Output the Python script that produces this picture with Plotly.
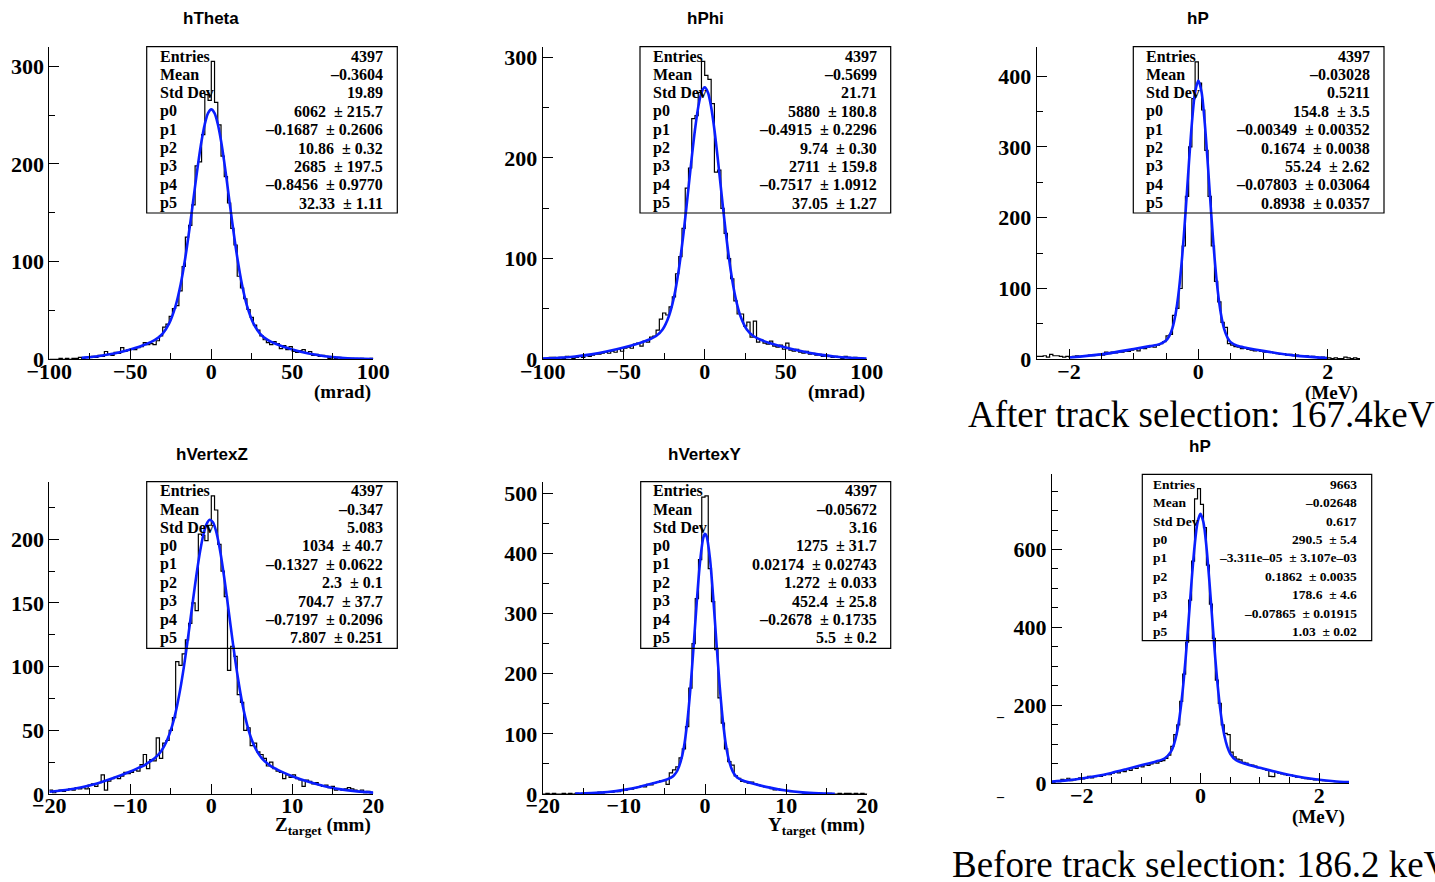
import numpy as np
import plotly.graph_objects as go

# ------------------------------------------------------------------ data
# histogram bin contents (100 bins each)
theta_range = [-100, 100]
theta_counts = [
    0, 0, 0, 1, 0, 1, 0, 1, 1, 2,
    1, 2, 2, 3, 2, 4, 3, 8, 5, 4,
    7, 6, 12, 8, 10, 11, 10, 12, 13, 17,
    15, 16, 15, 19, 24, 33, 36, 44, 52, 55,
    70, 95, 125, 137, 158, 198, 202, 230, 271, 265,
    305, 263, 240, 208, 187, 160, 134, 117, 85, 73,
    62, 51, 43, 35, 30, 24, 20, 17, 15, 18,
    16, 11, 14, 10, 13, 8, 7, 9, 10, 6,
    8, 4, 5, 3, 4, 3, 1, 2, 1, 2,
    1, 0, 1, 1, 0, 0, 1, 0, 0, 1]
theta_fit_x = [-80, -70, -60, -50, -40, -35, -30, -26, -22, -19, -16, -13, -10, -8, -6, -4, -2, 0,
               2, 4, 6, 8, 10, 13, 16, 19, 22, 26, 30, 35, 40, 50, 60, 70, 80, 90, 100]
theta_fit_y = [1.55, 3.2, 5.9, 10.0, 15.6, 19.6, 26.4, 36.7, 54.9, 76.0, 104.5, 139.3, 177.3, 201.9,
               223.7, 240.9, 252.0, 255.8, 252.0, 240.9, 223.7, 201.9, 177.3, 139.3, 104.5, 76.0,
               54.9, 36.7, 26.4, 19.6, 15.6, 10.0, 5.9, 3.2, 1.55, 0.69, 0.28]

phi_range = [-100, 100]
phi_counts = [
    1, 0, 2, 2, 1, 2, 1, 3, 2, 1,
    2, 3, 2, 4, 3, 4, 5, 5, 6, 7,
    6, 8, 7, 10, 8, 11, 12, 11, 15, 16,
    13, 18, 17, 22, 23, 29, 40, 46, 44, 52,
    62, 85, 102, 130, 170, 190, 239, 242, 265, 296,
    282, 278, 254, 186, 188, 150, 125, 100, 80, 58,
    45, 45, 33, 37, 22, 38, 17, 19, 16, 15,
    18, 13, 12, 14, 10, 16, 9, 8, 10, 7,
    6, 8, 5, 6, 4, 5, 3, 4, 3, 2,
    3, 2, 1, 3, 2, 1, 2, 1, 1, 0]
phi_fit_x = [-100, -90, -80, -70, -60, -50, -40, -35, -30, -26, -22, -19, -16, -13, -10, -8, -6, -4,
             -2, 0, 2, 4, 6, 8, 10, 13, 16, 19, 22, 26, 30, 35, 40, 50, 60, 70, 80, 90, 100]
phi_fit_y = [0.76, 1.5, 2.8, 4.9, 7.9, 11.7, 16.3, 19.1, 23.1, 29.6, 43.3, 61.4, 89.0, 126.2, 170.3,
             200.4, 228.0, 250.4, 265.0, 270.1, 265.0, 250.4, 228.0, 200.4, 170.3, 126.2, 89.0,
             61.4, 43.3, 29.6, 23.1, 19.1, 16.3, 11.7, 7.9, 4.9, 2.8, 1.5, 0.76]

pa_range = [-2.5, 2.5]
pa_counts = [
    4, 4, 5, 3, 7, 5, 5, 4, 3, 4,
    3, 4, 5, 4, 5, 4, 6, 5, 6, 7,
    6, 10, 8, 10, 9, 11, 10, 12, 11, 13,
    14, 12, 16, 15, 17, 18, 17, 20, 22, 25,
    33, 35, 62, 72, 100, 160, 230, 300, 368, 420,
    390, 352, 295, 230, 160, 110, 81, 52, 45, 22,
    20, 18, 17, 15, 16, 14, 13, 12, 13, 11,
    10, 11, 10, 9, 8, 7, 8, 6, 7, 5,
    6, 5, 4, 5, 3, 4, 3, 2, 3, 2,
    2, 1, 2, 1, 1, 3, 2, 1, 2, 1]
pa_fit_x = [-2, -1.5, -1, -0.75, -0.6, -0.5, -0.45, -0.4, -0.35, -0.3, -0.25, -0.2, -0.15, -0.1, -0.05,
            0, 0.05, 0.1, 0.15, 0.2, 0.25, 0.3, 0.35, 0.4, 0.45, 0.5, 0.6, 0.75, 1, 1.5, 2]
pa_fit_y = [2.44, 6.95, 14.5, 18.6, 21.4, 26.4, 32.6, 44.3, 65.0, 98.0, 145.2, 205.1, 271.5, 333.3,
            377.5, 393.5, 377.2, 332.8, 270.8, 204.2, 144.1, 96.6, 63.5, 42.6, 30.7, 24.3, 19.1,
            16.1, 11.9, 5.2, 1.65]

vz_range = [-20, 20]
vz_counts = [
    3, 1, 2, 3, 2, 3, 4, 3, 5, 4,
    5, 4, 7, 8, 6, 9, 15, 3, 10, 12,
    13, 12, 14, 17, 16, 17, 19, 18, 23, 31,
    20, 27, 26, 44, 28, 40, 42, 50, 60, 104,
    101, 110, 121, 134, 150, 144, 204, 203, 199, 211,
    234, 223, 196, 175, 155, 97, 116, 108, 78, 72,
    50, 52, 38, 40, 33, 31, 28, 22, 25, 20,
    18, 17, 12, 15, 13, 15, 12, 11, 6, 11,
    10, 8, 9, 7, 6, 7, 5, 6, 3, 4,
    3, 4, 5, 4, 3, 2, 3, 1, 2, 1]
vz_fit_x = [-20, -18, -16, -14, -12, -10, -9, -8.2, -7.8, -7.4, -7.0, -6.6, -6.2, -5.8, -5.4, -5.0,
            -4.6, -4.2, -3.8, -3.4, -3.0, -2.6, -2.2, -1.8, -1.4, -1.0, -0.6, -0.2, 0.2, 0.6, 1.0,
            1.4, 1.8, 2.2, 2.6, 3.0, 3.4, 3.8, 4.2, 4.6, 5.0, 5.4, 5.8, 6.2, 6.6, 7.0, 7.4, 7.8,
            8.2, 9, 10, 12, 14, 16, 18, 20]
vz_fit_y = [1.7, 3.1, 5.3, 8.5, 12.7, 17.7, 20.5, 22.7, 24.6, 26.2, 28.1, 30.5, 33.6, 37.7, 43.1, 50.1,
            58.9, 70.1, 83.5, 99.2, 116.9, 135.8, 155.1, 173.5, 189.9, 203.0, 211.7, 215.3, 213.3,
            206.1, 194.1, 178.5, 160.4, 141.0, 121.6, 103.1, 86.6, 72.1, 60.0, 50.2, 42.4, 36.5,
            31.9, 28.4, 25.7, 23.6, 21.7, 20.3, 19.0, 16.6, 14.0, 9.56, 6.1, 3.64, 2.03, 1.06]

vy_range = [-20, 20]
vy_counts = [
    0, 1, 0, 1, 0, 0, 1, 0, 1, 0,
    1, 0, 1, 2, 1, 2, 1, 3, 2, 3,
    4, 3, 5, 4, 7, 6, 9, 8, 10, 11,
    13, 12, 16, 15, 19, 20, 22, 22, 16, 35,
    40, 45, 60, 75, 112, 176, 250, 325, 390, 494,
    496, 375, 320, 240, 160, 118, 75, 54, 48, 30,
    26, 21, 20, 18, 20, 17, 15, 13, 12, 11,
    9, 7, 8, 6, 6, 5, 4, 4, 3, 3,
    2, 2, 2, 1, 1, 1, 0, 1, 1, 0,
    0, 1, 0, 1, 1, 0, 1, 0, 1, 0]
vy_fit_x = [-16, -14, -12, -10, -8, -6, -5, -4.6, -4, -3.8, -3.4, -3.0, -2.6, -2.2, -1.8, -1.4, -1.0,
            -0.6, -0.2, 0, 0.2, 0.6, 1.0, 1.4, 1.8, 2.2, 2.6, 3.0, 3.4, 3.8, 4.2, 4.6, 6, 8, 10, 12,
            14, 16]
vy_fit_y = [0.55, 1.45, 3.38, 6.86, 12.2, 19.1, 22.7, 24.7, 28.8, 31.3, 39.1, 53.8, 77.8, 117.8, 175.0,
            246.2, 322.0, 387.6, 426.8, 432.7, 428.7, 393.1, 329.5, 253.7, 181.2, 122.1, 79.9, 53.3,
            38.1, 29.8, 25.4, 22.8, 17.1, 10.6, 5.74, 2.72, 1.13, 0.41]

pb_range = [-2.5, 2.5]
pb_counts = [
    3, 6, 4, 10, 8, 13, 7, 9, 12, 14,
    11, 13, 18, 14, 17, 20, 18, 21, 24, 22,
    26, 29, 27, 32, 30, 36, 33, 40, 38, 45,
    42, 48, 46, 50, 53, 52, 56, 58, 64, 72,
    95, 125, 150, 210, 280, 362, 470, 570, 730, 756,
    716, 656, 560, 460, 372, 265, 205, 150, 128, 125,
    80, 68, 62, 60, 54, 52, 48, 47, 44, 40,
    38, 37, 33, 18, 17, 28, 26, 24, 22, 20,
    21, 18, 16, 15, 14, 12, 11, 10, 9, 10,
    8, 7, 6, 6, 5, 4, 4, 3, 3, 2]
pb_fit_x = [-2.5, -2.25, -2, -1.75, -1.5, -1.25, -1, -0.75, -0.6, -0.5, -0.45, -0.4, -0.35, -0.3, -0.25,
            -0.2, -0.15, -0.1, -0.05, 0, 0.05, 0.1, 0.15, 0.2, 0.25, 0.3, 0.35, 0.4, 0.45, 0.5, 0.6,
            0.75, 1, 1.25, 1.5, 1.75, 2, 2.25, 2.5]
pb_fit_y = [4.4, 7.5, 12.2, 18.6, 26.7, 36.3, 46.4, 56.0, 64.4, 80.6, 98.4, 127.8, 173.2, 237.6, 321.0,
            418.2, 518.8, 608.0, 669.6, 691.4, 669.1, 607.0, 517.4, 416.2, 318.5, 234.7, 169.9,
            124.0, 94.2, 76.0, 59.2, 50.1, 40.0, 30.1, 21.4, 14.3, 9.0, 5.4, 3.0]

# statistics boxes
stat_labels = ["Entries", "Mean", "Std Dev", "p0", "p1", "p2", "p3", "p4", "p5"]
theta_stats = ["4397", "\u20130.3604", "19.89", ("6062", "215.7"), ("\u20130.1687", "0.2606"),
               ("10.86", "0.32"), ("2685", "197.5"), ("\u20130.8456", "0.9770"), ("32.33", "1.11")]
phi_stats = ["4397", "\u20130.5699", "21.71", ("5880", "180.8"), ("\u20130.4915", "0.2296"),
             ("9.74", "0.30"), ("2711", "159.8"), ("\u20130.7517", "1.0912"), ("37.05", "1.27")]
pa_stats = ["4397", "\u20130.03028", "0.5211", ("154.8", "3.5"), ("\u20130.00349", "0.00352"),
            ("0.1674", "0.0038"), ("55.24", "2.62"), ("\u20130.07803", "0.03064"), ("0.8938", "0.0357")]
vz_stats = ["4397", "\u20130.347", "5.083", ("1034", "40.7"), ("\u20130.1327", "0.0622"),
            ("2.3", "0.1"), ("704.7", "37.7"), ("\u20130.7197", "0.2096"), ("7.807", "0.251")]
vy_stats = ["4397", "\u20130.05672", "3.16", ("1275", "31.7"), ("0.02174", "0.02743"),
            ("1.272", "0.033"), ("452.4", "25.8"), ("\u20130.2678", "0.1735"), ("5.5", "0.2")]
pb_stats = ["9663", "\u20130.02648", "0.617", ("290.5", "5.4"), ("\u20133.311e\u201305", "3.107e\u201303"),
            ("0.1862", "0.0035"), ("178.6", "4.6"), ("\u20130.07865", "0.01915"), ("1.03", "0.02")]

titles = ["hTheta", "hPhi", "hP", "hVertexZ", "hVertexY", "hP"]
xtitles = ["(mrad)", "(mrad)", "(MeV)", "Z<sub>target</sub> (mm)", "Y<sub>target</sub> (mm)", "(MeV)"]
note_after = "After track selection: 167.4keV"
note_before = "Before track selection: 186.2 keV"

# ------------------------------------------------------------------ layout helpers
W, H = 1435, 882
def fx(p):
    return p / W
def fy(p):
    return 1 - p / H

SERIF = "Liberation Serif"
SANS = "Liberation Sans"
BLUE = "#0a1eff"

panels = [
    dict(counts=theta_counts, rng=theta_range, fx_=theta_fit_x, fy_=theta_fit_y, stats=theta_stats,
         dom=(49.3, 373.3, 46.7, 359.3), ymax=320, xd=50, xm=25, yd=100, ym=50,
         box=(146.7, 46.7, 397.3, 213.0), row0=56.0, lx=159.3, rx=384.0, sfs=16,
         title=(211, 18), xt=(373.3, 392)),
    dict(counts=phi_counts, rng=phi_range, fx_=phi_fit_x, fy_=phi_fit_y, stats=phi_stats,
         dom=(542.7, 866.7, 46.7, 359.3), ymax=310.5, xd=50, xm=25, yd=100, ym=50,
         box=(640.0, 46.7, 890.7, 213.0), row0=56.0, lx=651.7, rx=877.7, sfs=16,
         title=(705, 18), xt=(866.7, 392)),
    dict(counts=pa_counts, rng=pa_range, fx_=pa_fit_x, fy_=pa_fit_y, stats=pa_stats,
         dom=(1036.7, 1360.0, 46.7, 359.3), ymax=441.4, xd=2, xm=0.5, yd=100, ym=50,
         box=(1133.3, 46.7, 1384.0, 213.0), row0=56.0, lx=1145.0, rx=1370.7, sfs=16,
         title=(1198, 18), xt=(1360.0, 393)),
    dict(counts=vz_counts, rng=vz_range, fx_=vz_fit_x, fy_=vz_fit_y, stats=vz_stats,
         dom=(49.3, 373.3, 481.7, 794.0), ymax=245.2, xd=10, xm=5, yd=50, ym=25,
         box=(146.7, 481.7, 397.3, 648.3), row0=490.7, lx=159.3, rx=384.0, sfs=16,
         title=(212, 454), xt=(373.3, 826)),
    dict(counts=vy_counts, rng=vy_range, fx_=vy_fit_x, fy_=vy_fit_y, stats=vy_stats,
         dom=(542.7, 867.3, 481.7, 794.0), ymax=519.5, xd=10, xm=5, yd=100, ym=50,
         box=(640.7, 481.7, 890.7, 648.3), row0=490.7, lx=651.7, rx=877.7, sfs=16,
         title=(704, 454), xt=(866.7, 826)),
    dict(counts=pb_counts, rng=pb_range, fx_=pb_fit_x, fy_=pb_fit_y, stats=pb_stats,
         dom=(1052.0, 1349.0, 474.3, 783.3), ymax=793, xd=2, xm=0.5, yd=200, ym=50,
         box=(1142.3, 474.3, 1371.7, 640.7), row0=484.3, lx=1152.3, rx=1357.7, sfs=13.5,
         title=(1200, 446), xt=(1347.3, 817)),
]

fig = go.Figure()
annotations = []
shapes = []
tickfont = dict(family=SERIF, size=22, color="black", weight="bold")

for i, p in enumerate(panels, start=1):
    xa = "x" if i == 1 else f"x{i}"
    ya = "y" if i == 1 else f"y{i}"
    counts = p["counts"]
    edges = np.linspace(p["rng"][0], p["rng"][1], len(counts) + 1)
    fig.add_trace(go.Scatter(x=edges, y=list(counts) + [counts[-1]], mode="lines",
                             line=dict(color="black", width=1.2, shape="hv"),
                             xaxis=xa, yaxis=ya, showlegend=False, hoverinfo="skip"))
    fig.add_trace(go.Scatter(x=p["fx_"], y=p["fy_"], mode="lines",
                             line=dict(color=BLUE, width=2.6, shape="spline", smoothing=0.8),
                             xaxis=xa, yaxis=ya, showlegend=False, hoverinfo="skip"))
    x0, x1, yt, yb = p["dom"]
    common = dict(showline=True, linecolor="black", linewidth=1, ticks="inside", ticklen=10,
                  tickwidth=1, tickcolor="black", showgrid=False, zeroline=False,
                  tickfont=tickfont, fixedrange=True, automargin=False)
    fig.layout[f"xaxis{'' if i == 1 else i}"] = dict(
        domain=[fx(x0), fx(x1)], range=p["rng"], anchor=ya, tick0=0, dtick=p["xd"],
        ticklabelstandoff=-8,
        minor=dict(dtick=p["xm"], tick0=0, ticks="inside", ticklen=6, tickcolor="black"),
        **common)
    fig.layout[f"yaxis{'' if i == 1 else i}"] = dict(
        domain=[fy(yb), fy(yt)], range=[0, p["ymax"]], anchor=xa, tick0=0, dtick=p["yd"],
        minor=dict(dtick=p["ym"], tick0=0, ticks="inside", ticklen=6, tickcolor="black"),
        **common)

    # stats box
    bx0, by0, bx1, by1 = p["box"]
    shapes.append(dict(type="rect", xref="paper", yref="paper", x0=fx(bx0), x1=fx(bx1),
                       y0=fy(by1), y1=fy(by0), line=dict(color="black", width=1.2),
                       fillcolor="rgba(0,0,0,0)", layer="above"))
    sfont = dict(family=SERIF, size=p["sfs"], color="black", weight="bold")
    for r, (lab, val) in enumerate(zip(stat_labels, p["stats"])):
        yy = p["row0"] + r * 18.4
        if isinstance(val, tuple):
            txt = f"{val[0]}\u00a0\u00a0\u00b1 {val[1]}"
        else:
            txt = val
        annotations.append(dict(xref="paper", yref="paper", x=fx(p["lx"]), y=fy(yy), text=lab,
                                xanchor="left", yanchor="middle", showarrow=False, font=sfont,
                                borderpad=0))
        annotations.append(dict(xref="paper", yref="paper", x=fx(p["rx"]), y=fy(yy), text=txt,
                                xanchor="right", yanchor="middle", showarrow=False, font=sfont,
                                borderpad=0))
    # title
    tx, ty = p["title"]
    annotations.append(dict(xref="paper", yref="paper", x=fx(tx), y=fy(ty), text=titles[i - 1],
                            xanchor="center", yanchor="middle", showarrow=False,
                            font=dict(family=SANS, size=17, color="black", weight="bold")))
    # x axis title
    ax, ay = p["xt"]
    annotations.append(dict(xref="paper", yref="paper", x=fx(ax), y=fy(ay), text=xtitles[i - 1],
                            xanchor="right", yanchor="middle", showarrow=False,
                            font=dict(family=SERIF, size=19, color="black", weight="bold")))

annotations.append(dict(xref="paper", yref="paper", x=fx(966), y=fy(414), text=note_after,
                        xanchor="left", yanchor="middle", showarrow=False,
                        font=dict(family=SERIF, size=37, color="black")))
annotations.append(dict(xref="paper", yref="paper", x=fx(950), y=fy(864), text=note_before,
                        xanchor="left", yanchor="middle", showarrow=False,
                        font=dict(family=SERIF, size=37, color="black")))
for dy in (716, 796):
    annotations.append(dict(xref="paper", yref="paper", x=fx(1001), y=fy(dy), text="\u2013",
                            xanchor="center", yanchor="middle", showarrow=False,
                            font=dict(family=SERIF, size=14, color="black", weight="bold")))

fig.update_layout(width=W, height=H, autosize=False,
                  margin=dict(l=0, r=0, t=0, b=0, pad=0, autoexpand=False),
                  paper_bgcolor="white", plot_bgcolor="white", annotations=annotations,
                  shapes=shapes, showlegend=False)

fig.write_html("out.html")
